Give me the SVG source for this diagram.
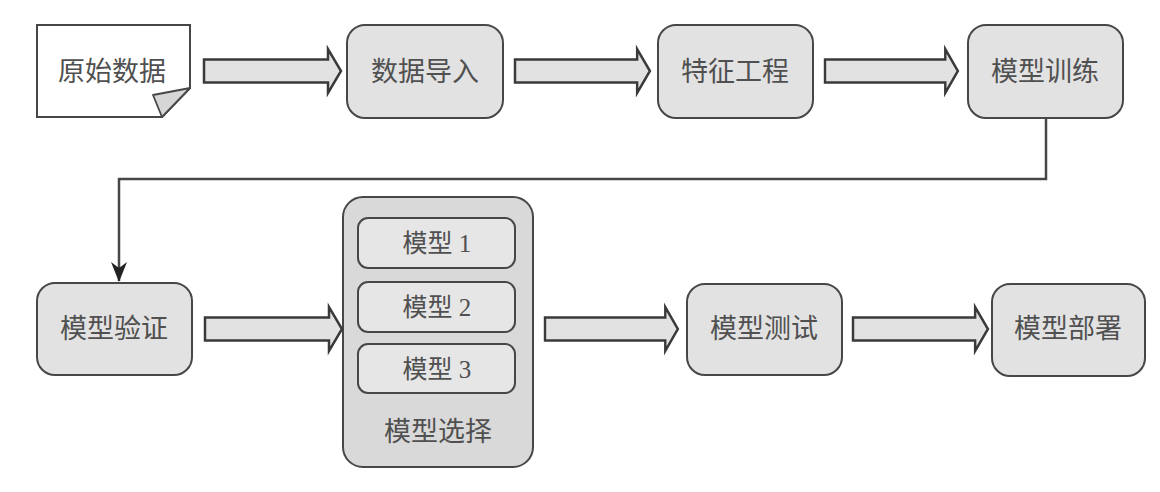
<svg xmlns="http://www.w3.org/2000/svg" width="1160" height="492" viewBox="0 0 1160 492">
<style>
.box{fill:#e2e2e2;stroke:#474747;stroke-width:2}
.cont{fill:#d9d9d9;stroke:#474747;stroke-width:2}
.inner{fill:#e6e6e6;stroke:#474747;stroke-width:2}
.doc{fill:#ffffff;stroke:#474747;stroke-width:2}
.fold{fill:#d6d6d6;stroke:#474747;stroke-width:1.8;stroke-linejoin:round}
.barrow{fill:#e2e2e2;stroke:#3a3a3a;stroke-width:2.5;stroke-linejoin:miter}
.lbl{font-family:"Liberation Serif","Noto Sans CJK SC",serif;font-size:27px;fill:#505050;text-anchor:middle;dominant-baseline:central}
.small{font-size:25px}
.line{fill:none;stroke:#474747;stroke-width:2.5}
</style>
<defs>
<marker id="ah" viewBox="0 0 20 16" refX="19" refY="8" markerWidth="20" markerHeight="16" markerUnits="userSpaceOnUse" orient="auto">
<path d="M0,0 L6,8 L0,16 L20,8 Z" fill="#222"/>
</marker>
<path id="barrowShape" d="M0,-11.5 L124,-11.5 L124,-22 L137,0 L124,22 L124,11.5 L0,11.5 Z"/>
</defs>

<g id="n-raw">
<path class="doc" d="M37,25 L190,25 L190,88 L162,117 L37,117 Z"/>
<path class="fold" d="M190,88 L153,95 L162,117 Z"/>
<text class="lbl" x="112" y="72">原始数据</text>
</g>

<g id="n-import">
<rect class="box" x="347" y="25" width="156" height="93" rx="18"/>
<text class="lbl" x="425" y="72">数据导入</text>
</g>

<g id="n-feature">
<rect class="box" x="658" y="25" width="155" height="93" rx="18"/>
<text class="lbl" x="735" y="72">特征工程</text>
</g>

<g id="n-train">
<rect class="box" x="968" y="25" width="155" height="93" rx="18"/>
<text class="lbl" x="1045" y="72">模型训练</text>
</g>

<g id="n-validate">
<rect class="box" x="37" y="283" width="155" height="92" rx="18"/>
<text class="lbl" x="114" y="329">模型验证</text>
</g>

<g id="n-select">
<rect class="cont" x="343" y="197" width="190" height="270" rx="20"/>
<text class="lbl" x="438" y="432">模型选择</text>
</g>
<g id="n-model1">
<rect class="inner" x="358" y="218" width="157" height="50" rx="10"/>
<text class="lbl small" x="437" y="243">模型 1</text>
</g>
<g id="n-model2">
<rect class="inner" x="358" y="282" width="157" height="50" rx="10"/>
<text class="lbl small" x="437" y="307">模型 2</text>
</g>
<g id="n-model3">
<rect class="inner" x="358" y="344" width="157" height="49" rx="10"/>
<text class="lbl small" x="437" y="369">模型 3</text>
</g>

<g id="n-test">
<rect class="box" x="687" y="284" width="155" height="91" rx="18"/>
<text class="lbl" x="764" y="329">模型测试</text>
</g>

<g id="n-deploy">
<rect class="box" x="992" y="284" width="153" height="92" rx="18"/>
<text class="lbl" x="1068" y="329">模型部署</text>
</g>

<g id="connectors">
<use href="#barrowShape" class="barrow" transform="translate(204,71)"/>
<use href="#barrowShape" class="barrow" transform="translate(515,71) scale(0.985,1)"/>
<use href="#barrowShape" class="barrow" transform="translate(825,71) scale(0.97,1)"/>
<use href="#barrowShape" class="barrow" transform="translate(205,329)"/>
<use href="#barrowShape" class="barrow" transform="translate(545,329) scale(0.97,1)"/>
<use href="#barrowShape" class="barrow" transform="translate(853,329) scale(0.985,1)"/>
<path class="line" d="M1046,118 L1046,179 L119,179 L119,281" marker-end="url(#ah)"/>
</g>
</svg>
